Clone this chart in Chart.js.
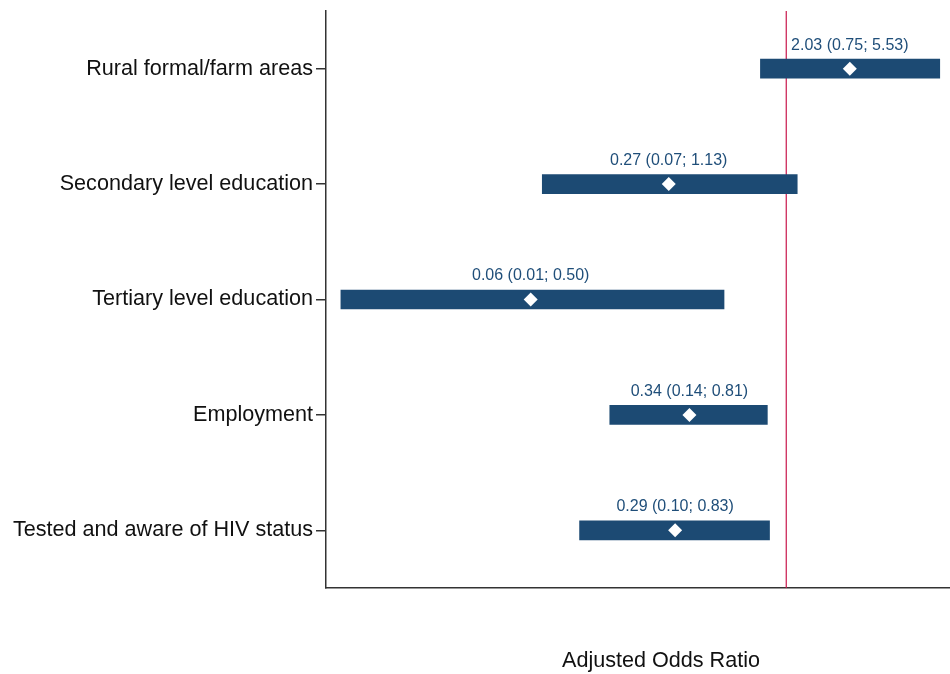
<!DOCTYPE html>
<html>
<head>
<meta charset="utf-8">
<script src="https://cdn.jsdelivr.net/npm/chart.js@4/dist/chart.umd.min.js"></script>
<style>
  html, body { margin: 0; padding: 0; background: #fff; overflow: hidden; }
  #wrap { width: 956px; height: 679px; margin-top: -5px; }
</style>
</head>
<body>
<div id="wrap"><canvas id="forest"></canvas></div>
<script>
// forest plot data
const categories = [
    'Rural formal/farm areas',
    'Secondary level education',
    'Tertiary level education',
    'Employment',
    'Tested and aware of HIV status'
];
const oddsRatio = [2.03, 0.27, 0.058, 0.34, 0.29];
const lowerCI = [0.75, 0.066, 0.007, 0.14, 0.10];
const upperCI = [5.53, 1.13, 0.50, 0.81, 0.83];
const refLine = 1;
const xTitle = 'Adjusted Odds Ratio';

const barColor = '#1c4a73';
const labelColor = '#1f4e79';
const fontFamily = '"Liberation Sans", Arial, sans-serif';

const fmt = v => v.toFixed(2);

// red reference line + value labels + axis title
const extras = {
    id: 'extras',
    beforeDatasetsDraw(chart) {
        const { ctx, chartArea, scales } = chart;
        const x = scales.x.getPixelForValue(refLine);
        ctx.save();
        ctx.strokeStyle = '#c8174c';
        ctx.lineWidth = 1.2;
        ctx.beginPath();
        ctx.moveTo(x, chartArea.top);
        ctx.lineTo(x, chartArea.bottom);
        ctx.stroke();
        ctx.restore();
    },
    afterDatasetsDraw(chart) {
        const { ctx, chartArea, scales } = chart;
        const meta = chart.getDatasetMeta(0);
        ctx.save();
        ctx.fillStyle = labelColor;
        ctx.font = '16px ' + fontFamily;
        ctx.textAlign = 'center';
        ctx.textBaseline = 'alphabetic';
        meta.data.forEach((bar, i) => {
            const cx = scales.x.getPixelForValue(oddsRatio[i]);
            const txt = fmt(oddsRatio[i]) + ' (' + fmt(lowerCI[i]) + '; ' + fmt(upperCI[i]) + ')';
            ctx.fillText(txt, cx, bar.y - 19);
        });
        ctx.fillStyle = '#111';
        ctx.font = '21.6px ' + fontFamily;
        ctx.textBaseline = 'middle';
        ctx.fillText(xTitle, chartArea.left + 335, chartArea.bottom + 73);
        ctx.restore();
    }
};

new Chart(document.getElementById('forest'), {
    type: 'bar',
    data: {
        labels: categories,
        datasets: [
            {
                type: 'bar',
                data: categories.map((c, i) => [lowerCI[i], upperCI[i]]),
                backgroundColor: barColor,
                borderWidth: 0,
                borderSkipped: false,
                barThickness: 19,
                order: 2
            },
            {
                type: 'scatter',
                data: categories.map((c, i) => ({ x: oddsRatio[i], y: c })),
                pointStyle: 'rectRot',
                pointRadius: 7,
                backgroundColor: '#ffffff',
                borderColor: '#ffffff',
                borderWidth: 0,
                order: 1
            }
        ]
    },
    options: {
        indexAxis: 'y',
        responsive: true,
        maintainAspectRatio: false,
        animation: false,
        layout: { padding: 0 },
        plugins: {
            legend: { display: false },
            tooltip: { enabled: false }
        },
        scales: {
            x: {
                type: 'logarithmic',
                min: 0.00593,
                max: 6.13,
                ticks: { display: false },
                grid: { display: false },
                border: { display: true, color: '#333', width: 1.5 },
                afterFit(scale) { scale.height = 86; }
            },
            y: {
                type: 'category',
                offset: true,
                ticks: {
                    color: '#111',
                    font: { family: fontFamily, size: 21.6 },
                    padding: 3
                },
                grid: {
                    display: true,
                    offset: false,
                    drawOnChartArea: false,
                    drawTicks: true,
                    tickLength: 10,
                    color: '#333',
                    lineWidth: 1.5
                },
                border: { display: true, color: '#333', width: 1.5 },
                afterFit(scale) { scale.width = 326; }
            }
        }
    },
    plugins: [extras]
});
</script>
</body>
</html>
